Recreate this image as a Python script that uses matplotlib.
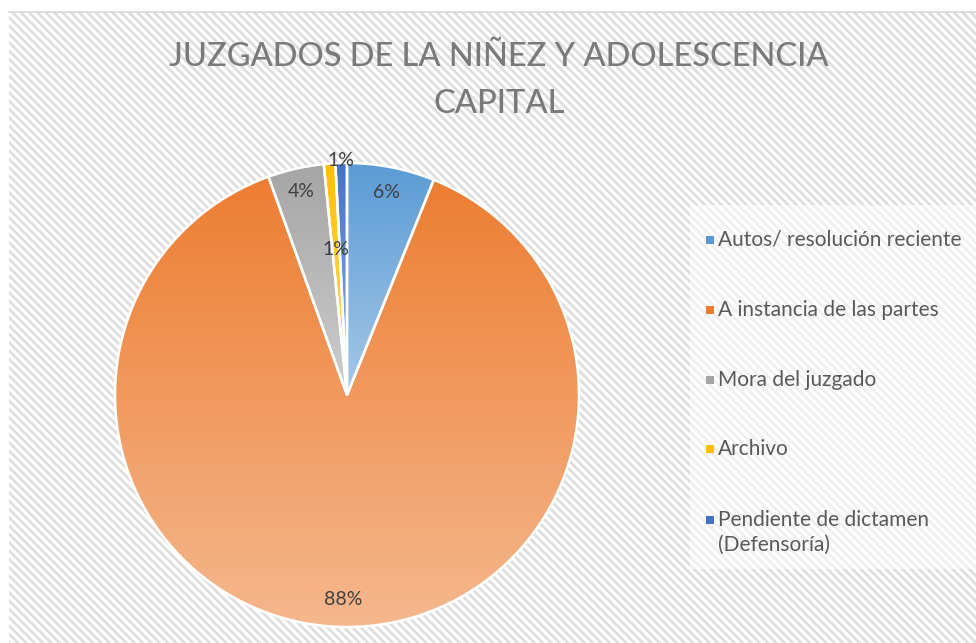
import numpy as np
import matplotlib
matplotlib.use('Agg')
import matplotlib.pyplot as plt
from matplotlib.colors import LinearSegmentedColormap, to_rgb
from matplotlib.patches import Rectangle

categories = ['Autos/ resolución reciente', 'A instancia de las partes',
              'Mora del juzgado', 'Archivo', 'Pendiente de dictamen\n(Defensoría)']
values = [61, 884, 39, 8, 8]
colors = ['#5B9BD5', '#ED7D31', '#A5A5A5', '#FFC000', '#4472C4']
title = 'JUZGADOS DE LA NIÑEZ Y ADOLESCENCIA\nCAPITAL'

# label distance from centre, per slice
label_dist = [0.89, 0.88, 0.90, 0.63, 1.01]

W, H = 976, 643
plt.rcParams['font.family'] = ['Lato', 'DejaVu Sans']
plt.rcParams['hatch.linewidth'] = 2.0

fig = plt.figure(figsize=(W / 100, H / 100), dpi=100)
fig.patch.set_facecolor('white')

def fx(x):
    return x / W

def fy(y):
    return 1 - y / H

# hatched chart area
bg = Rectangle((fx(9), 0), 1 - fx(9), fy(12), transform=fig.transFigure,
               facecolor='white', edgecolor='#dedede', hatch='\\\\\\\\', linewidth=0, zorder=-2)
fig.patches.append(bg)
fig.add_artist(plt.Line2D([fx(9), 1], [fy(12), fy(12)], color='#d9d9d9', lw=1.2,
                          transform=fig.transFigure, zorder=-1))

# pie
R = 232
cx, cy = 347, 395
ax = fig.add_axes([fx(cx - R), fy(cy + R), 2 * R / W, 2 * R / H])
ax.set_zorder(3)
ax.set_facecolor('none')
wedges, texts, autotexts = ax.pie(values, startangle=90, counterclock=False,
                                  autopct='%1.0f%%', pctdistance=1.0,
                                  wedgeprops=dict(edgecolor='white', linewidth=1.8),
                                  textprops=dict(fontsize=14, color='#404040'))

grad = np.linspace(0, 1, 256).reshape(-1, 1)
for w, c in zip(wedges, colors):
    base = np.array(to_rgb(c))
    light = base + (1 - base) * 0.45
    cmap = LinearSegmentedColormap.from_list('g', [base, light])
    bb = w.get_path().get_extents()
    w.set_facecolor('none')
    w.set_zorder(3)
    im = ax.imshow(grad, cmap=cmap, extent=(bb.x0, bb.x1, bb.y0, bb.y1),
                   origin='upper', aspect='auto', zorder=2)
    im.set_clip_path(w)

for t, d in zip(autotexts, label_dist):
    x, y = t.get_position()
    t.set_position((x * d, y * d))
    t.set_zorder(4)

ax.set_xlim(-1, 1)
ax.set_ylim(-1, 1)
ax.axis('off')

# title
fig.text(fx(499), fy(42), title, ha='center', va='top', fontsize=23.5,
         fontweight='medium', color='#7a7a7a', linespacing=1.72,
         multialignment='center')

# legend box
fig.patches.append(Rectangle((fx(690), fy(569)), 1 - fx(690), (569 - 205) / H,
                             transform=fig.transFigure, facecolor='white',
                             alpha=0.55, edgecolor='none', zorder=-1))
ys = [240, 310, 380, 449, 520]
for lab, c, y in zip(categories, colors, ys):
    fig.patches.append(Rectangle((fx(706), fy(y + 4)), 8 / W, 8 / H,
                                 transform=fig.transFigure, facecolor=c,
                                 edgecolor='none', zorder=2))
    fig.text(fx(718), fy(y - 10), lab, ha='left', va='top', fontsize=15,
             color='#595959', linespacing=1.3)

fig.savefig('out.png', dpi=100)
